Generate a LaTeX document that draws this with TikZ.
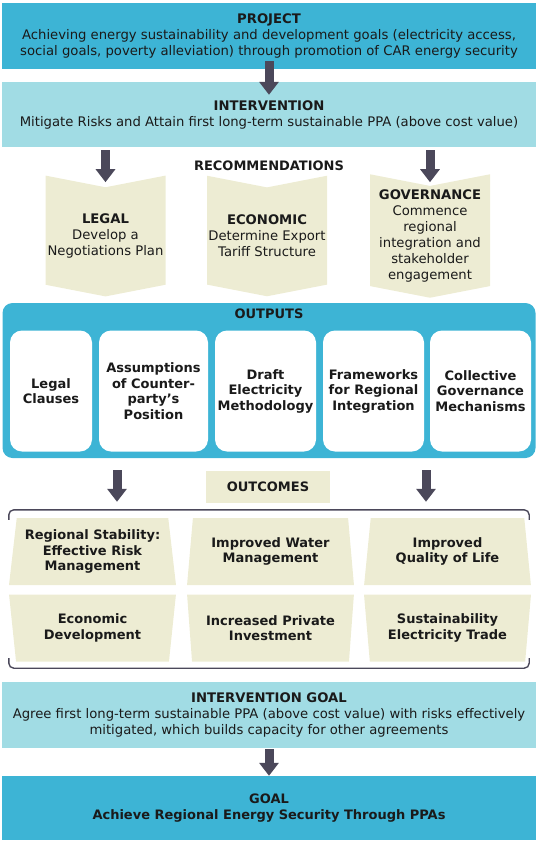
\documentclass[tikz,border=0pt]{standalone}
\usepackage{fontspec}
\setmainfont{DejaVu Sans}
\usepackage{xcolor}
\usetikzlibrary{
    shapes.geometric,
    shapes.symbols,
    arrows.meta,
    positioning,
    calc
}
\definecolor{primary}{HTML}{3DB4D5}
\definecolor{pale}{HTML}{A1DCE4}
\definecolor{sand}{HTML}{EDECD3}
\definecolor{arrowgray}{HTML}{4B485A}
\definecolor{dark}{HTML}{1A1A1A}
\tikzset{
    % Full-width banner style
    banner/.style={
        rectangle,
        minimum width=534pt,
        minimum height=66pt,
        inner sep=0pt,
        align=center,
        font=\fontsize{13.2}{16}\selectfont,
        text=dark,
        fill=#1
    },
    % Recommendation chevron style
    recommend/.style={
        signal,
        signal from=north,
        signal to=south,
        signal pointer angle=158,
        minimum width=120pt,
        minimum height=120pt,
        inner sep=0pt,
        align=center,
        font=\fontsize{13.2}{16}\selectfont,
        text=dark,
        fill=sand
    },
    % Output card style
    card/.style={
        rectangle,
        rounded corners=12pt,
        minimum height=121pt,
        inner sep=0pt,
        align=center,
        font=\fontsize{13}{15.5}\selectfont\bfseries,
        text=dark,
        fill=white
    },
    % Outcome trapezium style
    outcome/.style={
        trapezium,
        trapezium left angle=81,
        trapezium right angle=81,
        trapezium stretches=true,
        minimum width=167pt,
        minimum height=67pt,
        inner sep=0pt,
        align=center,
        font=\fontsize{13}{15.5}\selectfont\bfseries,
        text=dark,
        fill=sand
    },
    % Arrow styles
    blockarrow/.style={
        -{Triangle[length=13pt, width=19pt]},
        line width=9pt,
        color=arrowgray
    },
    bracket/.style={
        line width=1.4pt,
        rounded corners=5pt,
        color=arrowgray
    },
    % Section title style
    section title/.style={
        font=\fontsize{13}{16}\selectfont\bfseries,
        text=dark
    }
}

\begin{document}
\begin{tikzpicture}[x=1pt, y=-1pt]
        \useasboundingbox (0,0) rectangle (538,843);

        % Project and intervention
        \node[banner=primary] (proj) at (269, 36) {\textbf{PROJECT}\\Achieving energy sustainability and development goals (electricity access,\\social goals, poverty alleviation) through promotion of CAR energy security};
        \node[banner=pale, minimum height=65pt] (interv) at (269, 114.5) {\textbf{INTERVENTION}\\Mitigate Risks and Attain first long-term sustainable PPA (above cost value)};

        % Recommendations
        \node[section title] (rectitle) at (269, 166) {RECOMMENDATIONS};
        \node[recommend] (legal) at (105.5, 236) {\textbf{LEGAL}\\Develop a\\Negotiations Plan};
        \node[recommend] (econ) at (267, 236) {\textbf{ECONOMIC}\\Determine Export\\Tariff Structure};
        \node[recommend] (gov) at (430, 236) {\textbf{GOVERNANCE}\\Commence\\regional\\integration and\\stakeholder\\engagement};

        % Outputs
        \node[rectangle, rounded corners=10pt, fill=primary, minimum width=533pt, minimum height=155pt] (outputs) at (269, 380.5) {};
        \node[section title] (outtitle) at (269, 314) {OUTPUTS};
        \node[card, minimum width=82pt] (clauses) at (51, 391) {Legal\\Clauses};
        \node[card, minimum width=109pt] (assume) at (153.5, 391) {Assumptions\\of Counter-\\party's\\Position};
        \node[card, minimum width=101pt] (draft) at (265.5, 391) {Draft\\Electricity\\Methodology};
        \node[card, minimum width=101pt] (frame) at (373.5, 391) {Frameworks\\for Regional\\Integration};
        \node[card, minimum width=101pt] (collect) at (480.5, 391) {Collective\\Governance\\Mechanisms};

        % Outcomes
        \node[section title, fill=sand, minimum width=124pt, minimum height=32pt] (outtag) at (268, 487) {OUTCOMES};
        \node[minimum width=520pt, minimum height=158pt, inner sep=0pt] (outframe) at (269, 589) {};
        \node[outcome] (stable) at (92.5, 551.5) {Regional Stability:\\Effective Risk\\Management};
        \node[outcome] (water) at (270.5, 551.5) {Improved Water\\Management};
        \node[outcome] (life) at (447.5, 551.5) {Improved\\Quality of Life};
        \node[outcome, shape border rotate=180] (econdev) at (92.5, 628) {Economic\\Development};
        \node[outcome, shape border rotate=180] (invest) at (270.5, 628) {Increased Private\\Investment};
        \node[outcome, shape border rotate=180] (trade) at (447.5, 628) {Sustainability\\Electricity Trade};

        % Goals
        \node[banner=pale] (intgoal) at (269, 715) {\textbf{INTERVENTION GOAL}\\Agree first long-term sustainable PPA (above cost value) with risks effectively\\mitigated, which builds capacity for other agreements};
        \node[banner=primary, minimum height=64pt, font=\fontsize{13}{16}\selectfont\bfseries] (goal) at (269, 808) {GOAL\\Achieve Regional Energy Security Through PPAs};

        % Connections
        \draw[blockarrow] ($(proj.south)+(0,-8)$) -- ($(interv.north)+(0,13)$);
        \draw[blockarrow] ($(interv.south -| legal)+(0,3)$) -- ($(interv.south -| legal)+(0,35)$);
        \draw[blockarrow] ($(interv.south -| gov)+(0,3)$) -- ($(interv.south -| gov)+(0,35)$);
        \draw[blockarrow] ($(outputs.south)+(-152,12)$) -- ($(outframe.north)+(-152,-8)$);
        \draw[blockarrow] ($(outputs.south)+(157,12)$) -- ($(outframe.north)+(157,-8)$);
        \draw[blockarrow] ($(intgoal.south)+(0,1)$) -- ($(goal.north)+(0,0)$);

        % Bracket
        \draw[bracket] ($(outframe.north west)+(0,10)$) |- (outframe.north) -| ($(outframe.north east)+(0,10)$);
        \draw[bracket] ($(outframe.south west)+(0,-10)$) |- (outframe.south) -| ($(outframe.south east)+(0,-10)$);

    \end{tikzpicture}
\end{document}
